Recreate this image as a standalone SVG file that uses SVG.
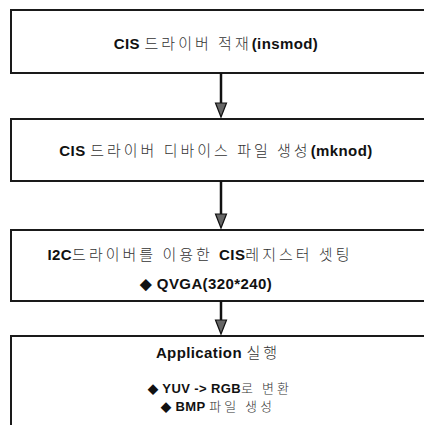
<svg xmlns="http://www.w3.org/2000/svg" width="424" height="425" viewBox="0 0 424 425">
<style>
.box{fill:#fff;stroke:#1a1a1a;stroke-width:2}
.t{font-size:15px;text-anchor:middle;fill:#111}
.s{font-size:13px}
.b{font-family:"Liberation Sans",Arial,sans-serif;font-weight:bold;letter-spacing:0.4px}
.k{font-family:"Noto Sans CJK KR","Noto Sans",sans-serif;font-weight:300;fill:#333;letter-spacing:3px}
.conn{stroke:#111;stroke-width:2.5;fill:none}
.head{fill:#666;stroke:#111;stroke-width:1.2}
</style>
<rect width="424" height="425" fill="#fff"/>
<g id="node1">
<rect class="box" x="11" y="10" width="420" height="63"/>
<text class="t" x="216" y="49"><tspan class="b">CIS </tspan><tspan class="k">드라이버 적재</tspan><tspan class="b">(insmod)</tspan></text>
</g>
<g id="node2">
<rect class="box" x="11" y="119" width="420" height="62"/>
<text class="t" x="216" y="156"><tspan class="b">CIS </tspan><tspan class="k">드라이버 디바이스 파일 생성</tspan><tspan class="b">(mknod)</tspan></text>
</g>
<g id="node3">
<rect class="box" x="11" y="230" width="420" height="71"/>
<text class="t" x="200" y="260"><tspan class="b">I2C</tspan><tspan class="k">드라이버를 이용한 </tspan><tspan class="b">CIS</tspan><tspan class="k">레지스터 셋팅</tspan></text>
<text class="t" x="206" y="289"><tspan class="b">◆ QVGA(320*240)</tspan></text>
</g>
<g id="node4">
<rect class="box" x="11" y="336" width="420" height="100"/>
<text class="t" x="218" y="358"><tspan class="b">Application </tspan><tspan class="k">실행</tspan></text>
<text class="t s" x="220" y="393"><tspan class="b">◆ YUV -&gt; RGB</tspan><tspan class="k">로 변환</tspan></text>
<text class="t s" x="218" y="411"><tspan class="b">◆ BMP </tspan><tspan class="k">파일 생성</tspan></text>
</g>
<g id="connectors">
<line class="conn" x1="221" y1="73" x2="221" y2="104"/>
<polygon class="head" points="215.5,103 226.5,103 221,117"/>
<line class="conn" x1="221" y1="181" x2="221" y2="215"/>
<polygon class="head" points="215.5,214 226.5,214 221,228"/>
<line class="conn" x1="221" y1="301" x2="221" y2="321"/>
<polygon class="head" points="215.5,320 226.5,320 221,334"/>
</g>
</svg>
